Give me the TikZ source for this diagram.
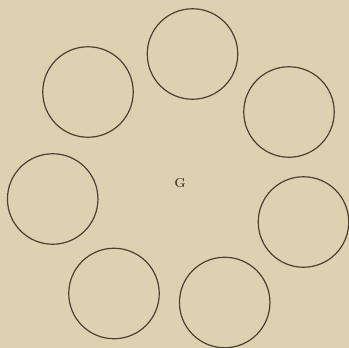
\documentclass[tikz,border=0pt]{standalone}
\begin{document}
\begin{tikzpicture}[x=1pt,y=-1pt,
  ring/.style={draw=ink,line width=1.2pt,circle,minimum size=90.5pt,inner sep=0pt},
  lbl/.style={text=ink,font=\fontsize{13}{13}\selectfont\bfseries,inner sep=0pt}]
\definecolor{bg}{HTML}{DCD2B1}
\definecolor{ink}{HTML}{4A4036}
\fill[bg] (0,0) rectangle (349,348);
\useasboundingbox (0,0) rectangle (349,348);
\node[ring] (c1) at (192.5,54) {};
\node[ring] (c2) at (88,92) {};
\node[ring] (c3) at (289,112) {};
\node[ring] (c4) at (52.7,199) {};
\node[ring] (c5) at (303.5,222) {};
\node[ring] (c6) at (114,293.5) {};
\node[ring] (c7) at (224.7,302.5) {};
\node[lbl] (g) at (180,183) {G};
\end{tikzpicture}
\end{document}
